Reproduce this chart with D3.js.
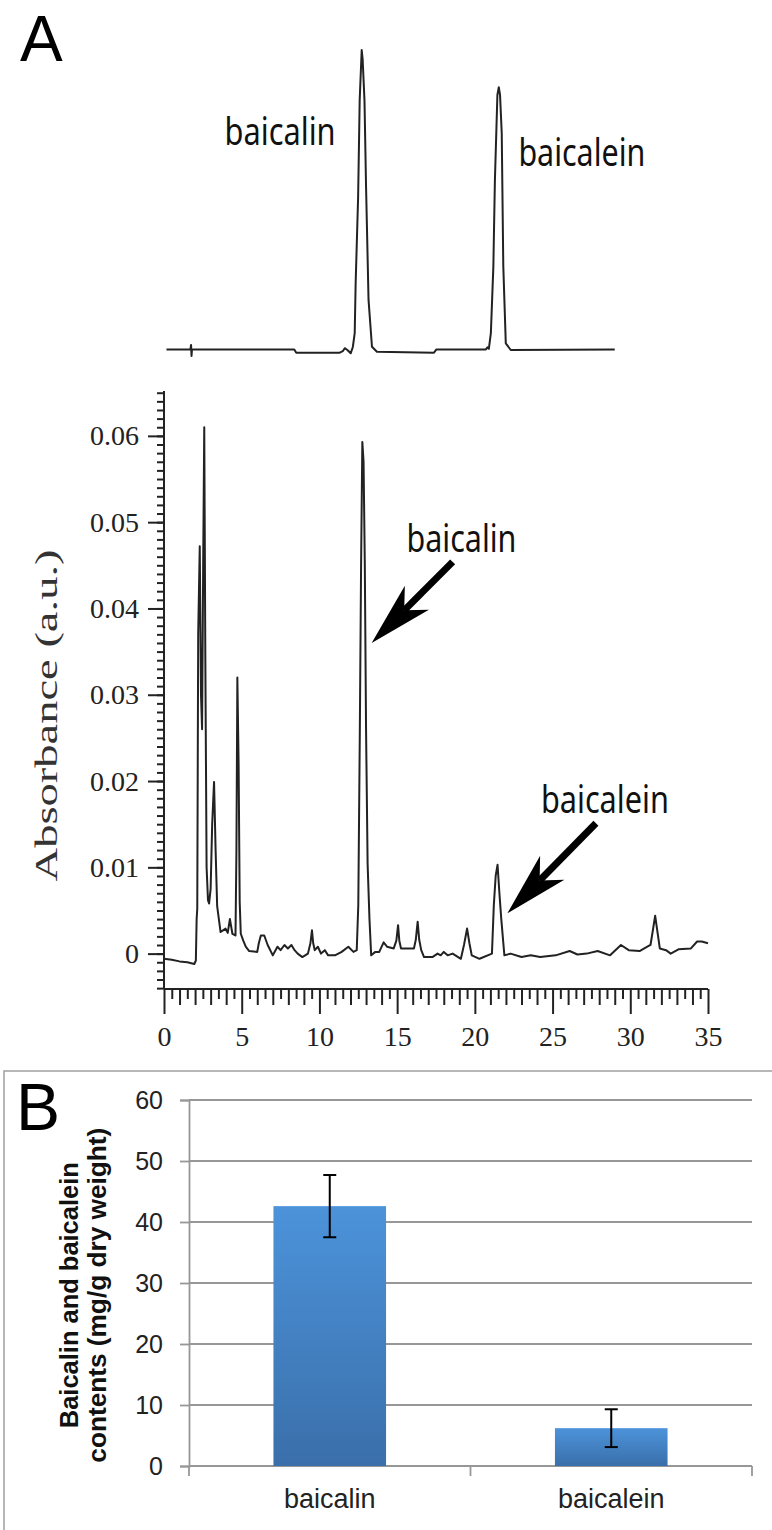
<!DOCTYPE html>
<html>
<head>
<meta charset="utf-8">
<script src="https://cdn.jsdelivr.net/npm/d3@7"></script>
<style>
  body { margin: 0; background: #fff; }
  svg { display: block; }
</style>
</head>
<body>
<div id="root"></div>
<script>
// ---------------------------- DATA ----------------------------
// Standard chromatogram (top trace), time in min / relative intensity
const stdTime = [0.16, 1.7, 1.74, 1.77, 1.8, 8.38, 8.51, 11.31, 11.5, 11.63, 11.8, 12.01, 12.15, 12.27, 12.33, 12.49, 12.59, 12.72, 12.78, 12.9, 13.0, 13.16, 13.38, 13.7, 17.37, 17.53, 20.71, 20.81, 20.9, 21.03, 21.19, 21.29, 21.45, 21.54, 21.62, 21.73, 21.83, 21.99, 22.31, 29.0];
const stdSignal = [0.002, 0.002, 0.017, -0.02, 0.002, 0.002, -0.009, -0.009, -0.004, 0.006, 0.0, -0.011, 0.01, 0.056, 0.222, 0.511, 0.833, 1.0, 0.97, 0.83, 0.544, 0.167, 0.011, -0.006, -0.009, 0.002, 0.002, 0.009, 0.004, 0.056, 0.278, 0.567, 0.85, 0.876, 0.85, 0.722, 0.278, 0.022, 0.0, 0.002];

// Sample chromatogram (bottom trace), time in min / absorbance (a.u.)
const sampleTime = [0.0, 0.5, 1.0, 1.5, 1.95, 2.05, 2.1, 2.14, 2.2, 2.3, 2.38, 2.45, 2.52, 2.59, 2.66, 2.74, 2.83, 2.9, 3.0, 3.1, 3.22, 3.32, 3.42, 3.5, 3.64, 3.8, 3.96, 4.1, 4.24, 4.4, 4.6, 4.66, 4.72, 4.8, 4.87, 4.94, 5.1, 5.26, 5.48, 6.0, 6.1, 6.23, 6.45, 6.67, 7.0, 7.3, 7.5, 7.75, 7.97, 8.2, 8.4, 8.6, 8.9, 9.26, 9.42, 9.52, 9.6, 9.7, 9.9, 10.1, 10.35, 10.56, 11.0, 11.43, 11.86, 12.19, 12.4, 12.5, 12.6, 12.68, 12.76, 12.84, 12.92, 13.0, 13.1, 13.22, 13.33, 13.6, 13.85, 14.13, 14.35, 14.78, 14.95, 15.06, 15.14, 15.25, 15.65, 16.08, 16.2, 16.32, 16.42, 16.55, 16.73, 17.27, 17.6, 17.8, 18.0, 18.25, 18.57, 19.1, 19.3, 19.5, 19.65, 19.8, 20.3, 21.1, 21.22, 21.34, 21.46, 21.58, 21.7, 21.9, 22.3, 23.0, 23.6, 24.2, 25.2, 26.1, 26.6, 27.2, 27.9, 28.7, 29.4, 29.9, 30.6, 30.9, 31.3, 31.48, 31.6, 31.75, 31.9, 32.3, 32.6, 33.1, 33.9, 34.3, 34.6, 35.0];
const sampleAbs = [-0.0006, -0.0007, -0.0009, -0.0010, -0.0012, -0.0008, 0.0040, 0.0052, 0.037, 0.0472, 0.030, 0.026, 0.045, 0.061, 0.034, 0.010, 0.0062, 0.0058, 0.0075, 0.015, 0.0199, 0.012, 0.0055, 0.0044, 0.0025, 0.0027, 0.0029, 0.0024, 0.0040, 0.0023, 0.0021, 0.012, 0.032, 0.022, 0.006, 0.0023, 0.0015, 0.0008, 0.0003, 0.0002, 0.0012, 0.0021, 0.0021, 0.0010, -0.0002, 0.0008, 0.0004, 0.0010, 0.0006, 0.0010, 0.0004, 0.0000, -0.0004, 0.0000, 0.0012, 0.0027, 0.0012, 0.0004, 0.0008, 0.0000, 0.0004, -0.0002, -0.0002, 0.0002, 0.0008, 0.0002, 0.0004, 0.0056, 0.026, 0.045, 0.0593, 0.057, 0.045, 0.026, 0.0104, 0.004, -0.0002, 0.0002, 0.0002, 0.0013, 0.0008, 0.0006, 0.0015, 0.0033, 0.0015, 0.0006, 0.0006, 0.0006, 0.0016, 0.0037, 0.0016, 0.0004, -0.0004, -0.0004, 0.0000, -0.0002, 0.0002, -0.0002, 0.0000, -0.0006, 0.0010, 0.0029, 0.0012, -0.0002, -0.0006, 0.0000, 0.0056, 0.0090, 0.0103, 0.0070, 0.0040, -0.0002, 0.0000, -0.0004, -0.0002, -0.0004, -0.0002, 0.0003, -0.0001, 0.0000, 0.0003, -0.0002, 0.0010, 0.0004, 0.0003, 0.0006, 0.0010, 0.0030, 0.0044, 0.0025, 0.0006, 0.0004, 0.0000, 0.0005, 0.0006, 0.0014, 0.0014, 0.0012];

const absTicks = [0, 0.01, 0.02, 0.03, 0.04, 0.05, 0.06];
const timeTicks = [0, 5, 10, 15, 20, 25, 30, 35];

// Peak labels: [text, time, signal] for the standard, arrows [time, abs] tail -> tip for the sample
const stdLabels = [["baicalin", 3.9, 0.683], ["baicalein", 22.8, 0.614]];
const sampleLabels = [["baicalin", 15.6, 0.0465], ["baicalein", 24.25, 0.0163]];
const arrowTail = [[18.57, 0.0454], [27.79, 0.0151]];
const arrowTip = [[13.36, 0.0360], [22.09, 0.00467]];

// Panel B: contents (mg/g dry weight)
const compounds = ["baicalin", "baicalein"];
const contents = [42.6, 6.2];
const contentErr = [5.1, 3.1];
const contentTicks = [0, 10, 20, 30, 40, 50, 60];

// ---------------------------- SETUP ----------------------------
const width = 772;
const height = 1530;

const svg = d3.select("#root")
    .append("svg")
    .attr("width", width)
    .attr("height", height);

const defs = svg.append("defs");
const grad = defs.append("linearGradient")
    .attr("id", "barGrad")
    .attr("x1", 0).attr("y1", 0).attr("x2", 0).attr("y2", 1);
grad.append("stop").attr("offset", "0%").attr("stop-color", "#4c93da");
grad.append("stop").attr("offset", "100%").attr("stop-color", "#3a6faa");

const serif = "'Liberation Serif', 'Times New Roman', serif";
const sans = "'Liberation Sans', Arial, sans-serif";
const labelFont = "'Noto Sans', 'Open Sans', sans-serif";

// ---------------------------- PANEL A ----------------------------
svg.append("text")
    .attr("x", 20)
    .attr("y", 61)
    .style("font-family", sans)
    .style("font-size", "64px")
    .text("A");

const x = d3.scaleLinear().domain([0, 35]).range([164, 708]);
const yStd = d3.scaleLinear().domain([0, 1]).range([350, 50]);
const yAbs = d3.scaleLinear().domain([-0.0041, 0.0652]).range([989, 391]);

// top trace (standards)
const stdLine = d3.line()
    .x((d, i) => x(stdTime[i]))
    .y(d => yStd(d));

svg.append("path")
    .datum(stdSignal)
    .attr("d", stdLine)
    .attr("fill", "none")
    .attr("stroke", "#222")
    .attr("stroke-width", 2)
    .attr("stroke-linejoin", "round");

svg.selectAll(".stdLabel")
    .data(stdLabels)
    .enter()
    .append("text")
    .attr("class", "stdLabel")
    .attr("x", d => x(d[1]))
    .attr("y", d => yStd(d[2]))
    .attr("textLength", (d, i) => i === 0 ? 111 : 127)
    .attr("lengthAdjust", "spacingAndGlyphs")
    .style("font-family", labelFont)
    .style("font-size", "38px")
    .style("fill", "#111")
    .text(d => d[0]);

// bottom trace (sample) axes
const yMinor = d3.range(-4, 66).map(d => d / 1000);
svg.append("g")
    .attr("transform", "translate(" + x(0) + ",0)")
    .call(d3.axisLeft(yAbs).tickValues(yMinor).tickSize(7).tickFormat(""))
    .call(g => g.select(".domain").remove());

const yAxis = svg.append("g")
    .attr("transform", "translate(" + x(0) + ",0)")
    .call(d3.axisLeft(yAbs).tickValues(absTicks).tickSize(16).tickPadding(9)
        .tickFormat(d => d === 0 ? "0" : d.toFixed(2)));
yAxis.select(".domain").attr("d", "M0," + yAbs.range()[0] + "V" + yAbs.range()[1]);

const xHalf = d3.range(0, 71).map(d => d / 2).filter(d => d % 1 !== 0);
const xInt = d3.range(0, 36).filter(d => d % 5 !== 0);
svg.append("g")
    .attr("transform", "translate(0," + yAbs(-0.0041) + ")")
    .call(d3.axisBottom(x).tickValues(xHalf).tickSize(10).tickFormat(""))
    .call(g => g.select(".domain").remove());
svg.append("g")
    .attr("transform", "translate(0," + yAbs(-0.0041) + ")")
    .call(d3.axisBottom(x).tickValues(xInt).tickSize(16).tickFormat(""))
    .call(g => g.select(".domain").remove());
const xAxis = svg.append("g")
    .attr("transform", "translate(0," + yAbs(-0.0041) + ")")
    .call(d3.axisBottom(x).tickValues(timeTicks).tickSize(25).tickPadding(12).tickFormat(d3.format("d")));
xAxis.select(".domain").attr("d", "M" + x.range()[0] + ",0H" + x.range()[1]);

svg.selectAll(".tick line, .domain")
    .attr("stroke", "#222")
    .attr("stroke-width", 2);
svg.selectAll(".tick text")
    .style("font-family", serif)
    .style("font-size", "28px")
    .style("fill", "#222");

svg.append("text")
    .attr("transform", "translate(57," + yAbs(0.0276) + ") rotate(-90)")
    .attr("text-anchor", "middle")
    .attr("textLength", 332)
    .attr("lengthAdjust", "spacingAndGlyphs")
    .style("font-family", serif)
    .style("font-size", "32px")
    .style("fill", "#333")
    .text("Absorbance (a.u.)");

const sampleLine = d3.line()
    .x((d, i) => x(sampleTime[i]))
    .y(d => yAbs(d));

svg.append("path")
    .datum(sampleAbs)
    .attr("d", sampleLine)
    .attr("fill", "none")
    .attr("stroke", "#222")
    .attr("stroke-width", 2)
    .attr("stroke-linejoin", "round");

// arrows
arrowTail.forEach((tail, i) => {
    const x0 = x(tail[0]), y0 = yAbs(tail[1]);
    const x1 = x(arrowTip[i][0]), y1 = yAbs(arrowTip[i][1]);
    const len = Math.hypot(x1 - x0, y1 - y0);
    const ux = (x1 - x0) / len, uy = (y1 - y0) / len;
    const headLen = 64, headHalf = 17;
    const bx = x1 - ux * headLen, by = y1 - uy * headLen;
    const nx = x1 - ux * headLen * 0.72, ny = y1 - uy * headLen * 0.72;
    svg.append("line")
        .attr("x1", x0).attr("y1", y0)
        .attr("x2", nx).attr("y2", ny)
        .attr("stroke", "#000")
        .attr("stroke-width", 7);
    svg.append("path")
        .attr("d", "M" + x1 + "," + y1 +
            "L" + (bx - uy * headHalf) + "," + (by + ux * headHalf) +
            "L" + nx + "," + ny +
            "L" + (bx + uy * headHalf) + "," + (by - ux * headHalf) + "Z")
        .attr("fill", "#000");
});

svg.selectAll(".sampleLabel")
    .data(sampleLabels)
    .enter()
    .append("text")
    .attr("class", "sampleLabel")
    .attr("x", d => x(d[1]))
    .attr("y", d => yAbs(d[2]))
    .attr("textLength", (d, i) => i === 0 ? 110 : 128)
    .attr("lengthAdjust", "spacingAndGlyphs")
    .style("font-family", labelFont)
    .style("font-size", "38px")
    .style("fill", "#111")
    .text(d => d[0]);

// ---------------------------- PANEL B ----------------------------
svg.append("rect")
    .attr("x", 4)
    .attr("y", 1071)
    .attr("width", 800)
    .attr("height", 500)
    .attr("fill", "none")
    .attr("stroke", "#a0a0a0")
    .attr("stroke-width", 1.5);

svg.append("text")
    .attr("x", 16)
    .attr("y", 1130)
    .style("font-family", sans)
    .style("font-size", "66px")
    .text("B");

const xb = d3.scaleBand()
    .domain(compounds)
    .range([189, 752])
    .paddingInner(0.6)
    .paddingOuter(0.3);
const yb = d3.scaleLinear().domain([0, 60]).range([1466, 1100]);

// gridlines
svg.append("g")
    .selectAll("line")
    .data(contentTicks.slice(1))
    .enter()
    .append("line")
    .attr("x1", xb.range()[0])
    .attr("x2", xb.range()[1])
    .attr("y1", d => yb(d))
    .attr("y2", d => yb(d))
    .attr("stroke", "#979797")
    .attr("stroke-width", 1.8);

const ybAxis = svg.append("g")
    .attr("transform", "translate(" + xb.range()[0] + ",0)")
    .call(d3.axisLeft(yb).tickValues(contentTicks).tickSize(9).tickPadding(17));
ybAxis.selectAll("line, path").attr("stroke", "#979797").attr("stroke-width", 1.8);
ybAxis.selectAll("text")
    .style("font-family", sans)
    .style("font-size", "25px")
    .style("fill", "#222");

// category boundary ticks on x axis
const step = xb.step();
const boundaries = d3.range(0, compounds.length + 1).map(i => xb.range()[0] + i * step);
const xbAxis = svg.append("g").attr("class", "xbAxis");
xbAxis.append("line")
    .attr("x1", xb.range()[0]).attr("x2", xb.range()[1])
    .attr("y1", yb(0)).attr("y2", yb(0))
    .attr("stroke", "#979797").attr("stroke-width", 1.8);
xbAxis.selectAll(".bt")
    .data(boundaries)
    .enter()
    .append("line")
    .attr("class", "bt")
    .attr("x1", d => d).attr("x2", d => d)
    .attr("y1", yb(0)).attr("y2", yb(0) + 10)
    .attr("stroke", "#979797").attr("stroke-width", 1.8);
xbAxis.selectAll("text")
    .data(compounds)
    .enter()
    .append("text")
    .attr("x", d => xb(d) + xb.bandwidth() / 2)
    .attr("y", yb(0) + 42)
    .attr("text-anchor", "middle")
    .style("font-family", sans)
    .style("font-size", "27px")
    .style("fill", "#222")
    .text(d => d);

// bars
svg.selectAll(".bar")
    .data(compounds)
    .enter()
    .append("rect")
    .attr("class", "bar")
    .attr("x", d => xb(d))
    .attr("width", xb.bandwidth())
    .attr("y", (d, i) => yb(contents[i]))
    .attr("height", (d, i) => yb(0) - yb(contents[i]))
    .attr("fill", "url(#barGrad)");

// error bars
const err = svg.selectAll(".err")
    .data(compounds)
    .enter()
    .append("g")
    .attr("class", "err")
    .attr("stroke", "#000")
    .attr("stroke-width", 2);
err.append("line")
    .attr("x1", d => xb(d) + xb.bandwidth() / 2)
    .attr("x2", d => xb(d) + xb.bandwidth() / 2)
    .attr("y1", (d, i) => yb(contents[i] + contentErr[i]))
    .attr("y2", (d, i) => yb(contents[i] - contentErr[i]));
[1, -1].forEach(sign => {
    err.append("line")
        .attr("x1", d => xb(d) + xb.bandwidth() / 2 - 6.5)
        .attr("x2", d => xb(d) + xb.bandwidth() / 2 + 6.5)
        .attr("y1", (d, i) => yb(contents[i] + sign * contentErr[i]))
        .attr("y2", (d, i) => yb(contents[i] + sign * contentErr[i]));
});

// y label (two lines)
const yLabel = svg.append("text")
    .attr("transform", "translate(0," + yb(28) + ") rotate(-90)")
    .attr("text-anchor", "middle")
    .style("font-family", sans)
    .style("font-weight", "bold")
    .style("font-size", "25px")
    .style("fill", "#111");
yLabel.append("tspan")
    .attr("x", 0).attr("y", 78)
    .attr("textLength", 266)
    .attr("lengthAdjust", "spacingAndGlyphs")
    .text("Baicalin and baicalein");
yLabel.append("tspan")
    .attr("x", 0).attr("y", 106)
    .attr("textLength", 335)
    .attr("lengthAdjust", "spacingAndGlyphs")
    .text("contents (mg/g dry weight)");
</script>
</body>
</html>
